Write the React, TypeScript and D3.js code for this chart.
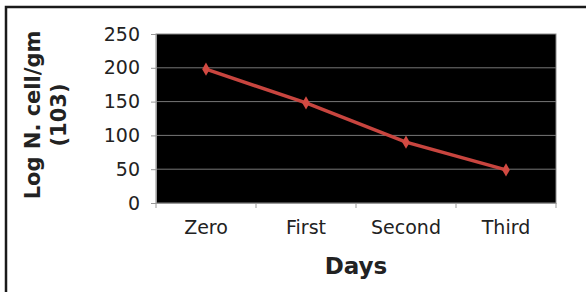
import React, { useEffect, useRef } from 'react';
import * as d3 from 'd3';

const days = ['Zero', 'First', 'Second', 'Third'];
const cellCounts = [198, 148, 90, 49];
const yTicks = [0, 50, 100, 150, 200, 250];

export default function App() {
  const ref = useRef<SVGSVGElement>(null);

  useEffect(() => {
    const svg = d3.select(ref.current);
    svg.selectAll('*').remove();

    const margin = { top: 34, right: 30, bottom: 89, left: 156 };
    const W = 586;
    const H = 292;
    const width = W - margin.left - margin.right;
    const height = H - margin.top - margin.bottom;
    const font = "'DejaVu Sans', 'Open Sans', sans-serif";

    svg.append('rect').attr('width', W).attr('height', H).attr('fill', '#fff');

    // outer frame (top and left only visible)
    svg.append('path')
      .attr('d', `M6,${H} V7 H${W}`)
      .attr('fill', 'none')
      .attr('stroke', '#1a1a1a')
      .attr('stroke-width', 2.5);

    const x = d3.scaleBand().domain(days).range([0, width]);
    const y = d3.scaleLinear().domain([0, 250]).range([height, 0]);

    const g = svg.append('g').attr('transform', `translate(${margin.left},${margin.top})`);

    g.append('rect')
      .attr('width', width)
      .attr('height', height)
      .attr('fill', '#000')
      .attr('stroke', '#8a8a8a')
      .attr('stroke-width', 1);

    g.selectAll('.grid')
      .data(yTicks.filter((t) => t > 0 && t < 250))
      .enter()
      .append('line')
      .attr('x1', 0)
      .attr('x2', width)
      .attr('y1', (d) => y(d))
      .attr('y2', (d) => y(d))
      .attr('stroke', '#777')
      .attr('stroke-width', 1);

    const yAxis = g.append('g').call(
      d3.axisLeft(y).tickValues(yTicks).tickSize(5).tickPadding(11)
    );
    yAxis.select('.domain').attr('stroke', '#999');
    yAxis.selectAll('.tick line').attr('stroke', '#999');
    yAxis.selectAll('text')
      .attr('font-family', font)
      .attr('font-size', 19)
      .attr('fill', '#222');

    const xAxis = g.append('g')
      .attr('transform', `translate(0,${height})`)
      .call(d3.axisBottom(x).tickSize(0).tickPadding(18));
    xAxis.select('.domain').attr('stroke', '#999');
    xAxis.selectAll('text')
      .attr('font-family', font)
      .attr('font-size', 19)
      .attr('fill', '#222');

    // category boundary ticks
    const bounds = [0, ...days.map((d) => (x(d) as number) + x.bandwidth())];
    g.selectAll('.xtick')
      .data(bounds)
      .enter()
      .append('line')
      .attr('x1', (d) => d)
      .attr('x2', (d) => d)
      .attr('y1', height)
      .attr('y2', height + 5)
      .attr('stroke', '#999');

    const line = d3.line<number>()
      .x((d, i) => (x(days[i]) as number) + x.bandwidth() / 2)
      .y((d) => y(d));

    g.append('path')
      .datum(cellCounts)
      .attr('d', line)
      .attr('fill', 'none')
      .attr('stroke', '#c8453f')
      .attr('stroke-width', 3.5);

    g.selectAll('.pt')
      .data(cellCounts)
      .enter()
      .append('path')
      .attr('d', d3.symbol(d3.symbolDiamond, 50))
      .attr('transform', (d, i) => `translate(${(x(days[i]) as number) + x.bandwidth() / 2},${y(d)})`)
      .attr('fill', '#d24a42');

    svg.append('text')
      .attr('x', margin.left + width / 2)
      .attr('y', 274)
      .attr('text-anchor', 'middle')
      .attr('font-family', font)
      .attr('font-size', 23)
      .attr('font-weight', 'bold')
      .attr('fill', '#222')
      .text('Days');

    const yl = svg.append('text')
      .attr('transform', 'translate(0,115) rotate(-90)')
      .attr('text-anchor', 'middle')
      .attr('font-family', font)
      .attr('font-size', 21)
      .attr('font-weight', 'bold')
      .attr('fill', '#222');
    yl.append('tspan').attr('x', 0).attr('y', 40).text('Log N. cell/gm');
    yl.append('tspan').attr('x', 0).attr('y', 66).text('(103)');
  }, []);

  return (
    <svg
      ref={ref}
      width={586}
      height={292}
      style={{ position: 'absolute', left: 0, top: 0, display: 'block' }}
    />
  );
}
